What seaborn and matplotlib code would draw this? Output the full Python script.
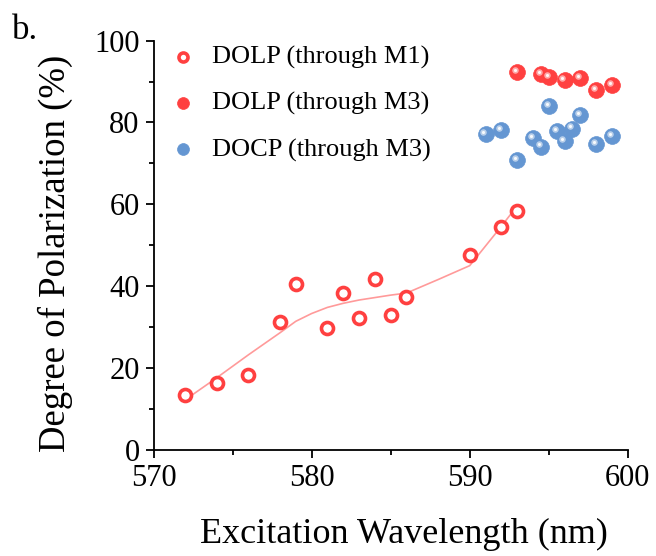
import numpy as np
import pandas as pd
import seaborn as sns
import matplotlib
matplotlib.use("Agg")
import matplotlib.pyplot as plt
from matplotlib.transforms import ScaledTranslation

# ---- data ----
m1_x = [572, 574, 576, 578, 579, 581, 582, 583, 584, 585, 586, 590, 592, 593]
m1_y = [13.4, 16.3, 18.4, 31.2, 40.6, 29.7, 38.3, 32.3, 41.7, 32.9, 37.4, 47.7, 54.4, 58.4]

fit_x = [572, 574, 576, 578, 579, 580, 581, 582, 583, 584, 585, 586, 588, 590, 591, 592, 593]
fit_y = [12.2, 17.6, 23.2, 28.6, 31.4, 33.3, 34.8, 35.8, 36.6, 37.2, 37.8, 38.3, 41.6, 45.0, 49.8, 54.6, 59.6]

m3_dolp_x = [593, 594.5, 595, 596, 597, 598, 599]
m3_dolp_y = [92.3, 91.9, 91.1, 90.3, 90.9, 88.0, 89.2]

m3_docp_x = [591, 592, 593, 594, 594.5, 595, 595.5, 596, 596.5, 597, 598, 599]
m3_docp_y = [77.1, 78.2, 70.8, 76.2, 74.1, 84.0, 77.8, 75.5, 78.5, 81.7, 74.8, 76.7]

xticks = [570, 580, 590, 600]
yticks = [0, 20, 40, 60, 80, 100]

RED = "#ff4040"
BLUE = "#6496d2"

sns.set_theme(style="ticks")
plt.rcParams["font.family"] = ["Liberation Serif", "DejaVu Serif"]
plt.rcParams["text.color"] = "black"
plt.rcParams["axes.labelcolor"] = "black"
plt.rcParams["xtick.color"] = "black"
plt.rcParams["ytick.color"] = "black"

fig = plt.figure(figsize=(6.56, 5.56), dpi=100)
ax = fig.add_axes([0.234, 0.191, 0.723, 0.736])

# smoothed guide line
sns.lineplot(x=fit_x, y=fit_y, ax=ax, color="#ff9a9a", lw=1.2, zorder=1)

# hollow markers (M1)
sns.scatterplot(x=m1_x, y=m1_y, ax=ax, marker="o", s=75, facecolor="white",
                edgecolor=RED, linewidth=2.6, zorder=3, label="DOLP (through M1)")

# filled spheres
def sphere(xs, ys, color, label):
    sns.scatterplot(x=xs, y=ys, ax=ax, marker="o", s=130, color=color,
                    edgecolor=color, linewidth=0.5, zorder=4, label=label)
    off = ScaledTranslation(-1.5 / 72, 1.5 / 72, fig.dpi_scale_trans)
    ax.scatter(xs, ys, marker="o", s=22, color="white", alpha=0.55,
               linewidths=0, zorder=5, transform=ax.transData + off)
    ax.scatter(xs, ys, marker="o", s=5, color="white", alpha=0.9,
               linewidths=0, zorder=6, transform=ax.transData + off)

sphere(m3_dolp_x, m3_dolp_y, RED, "DOLP (through M3)")
sphere(m3_docp_x, m3_docp_y, BLUE, "DOCP (through M3)")

ax.set_xlim(570, 600)
ax.set_ylim(0, 100)
ax.set_xticks(xticks)
ax.set_yticks(yticks)
ax.set_xticks([575, 585, 595], minor=True)
ax.set_yticks([10, 30, 50, 70, 90], minor=True)
ax.tick_params(axis="both", which="major", direction="out", length=6, width=1.3,
               labelsize=22, colors="black", pad=4)
ax.tick_params(axis="both", which="minor", direction="out", length=3.5, width=1.3,
               colors="black")
for s in ["top", "right"]:
    ax.spines[s].set_visible(False)
for s in ["left", "bottom"]:
    ax.spines[s].set_linewidth(1.3)
    ax.spines[s].set_color("black")

ax.set_xlabel("Excitation Wavelength (nm)", fontsize=26, color="black")
ax.set_ylabel("Degree of Polarization (%)", fontsize=26.5, color="black")
ax.xaxis.set_label_coords(0.528, -0.167)
ax.yaxis.set_label_coords(-0.17, 0.479)

leg = ax.legend(loc="upper left", frameon=False, fontsize=19, labelspacing=0.85,
                handletextpad=0.5, handlelength=1.2, markerscale=0.75,
                borderaxespad=0.2, bbox_to_anchor=(-0.005, 1.028))
for t in leg.get_texts():
    t.set_color("black")

fig.text(0.018, 0.93, "b.", fontsize=25, color="black")

fig.savefig("out.png", dpi=100)
